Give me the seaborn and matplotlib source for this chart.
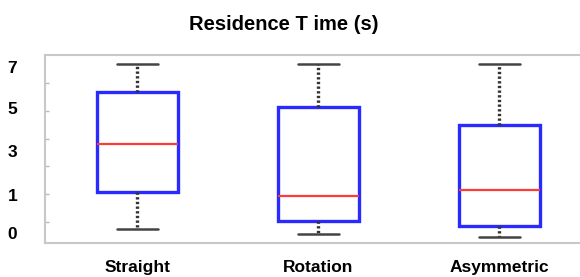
import numpy as np
import pandas as pd
import matplotlib
matplotlib.use("Agg")
import matplotlib.pyplot as plt
import seaborn as sns

# Datos (mín, Q1, mediana, Q3, máx)
categorias = ["Straight", "Rotation", "Asymmetric"]
straight = [0.10, 1.15, 3.33, 5.78, 7.15]
rotation = [-0.03, 0.32, 0.97, 5.03, 7.15]
asymmetric = [-0.10, 0.18, 1.24, 4.20, 7.15]
marcas_y = [0, 1, 3, 5, 7]

sns.set_theme(style="white")
plt.rcParams["font.family"] = ["Liberation Sans", "DejaVu Sans"]
plt.rcParams["font.weight"] = "bold"
plt.rcParams["text.color"] = "black"
plt.rcParams["xtick.labelcolor"] = "black"
plt.rcParams["ytick.labelcolor"] = "black"

data = pd.DataFrame({
    "categoria": np.repeat(categorias, 5),
    "valor": straight + rotation + asymmetric,
})

# el eje Y del original no es lineal: posiciones (px) de cada etiqueta
kv = np.array(marcas_y, float)
kp = np.array([0, 38, 82, 125, 166], float)


def _tramos(v, xs, ys):
    v = np.asarray(v, float)
    out = np.interp(v, xs, ys)
    m0 = (ys[1] - ys[0]) / (xs[1] - xs[0])
    m1 = (ys[-1] - ys[-2]) / (xs[-1] - xs[-2])
    out = np.where(v < xs[0], ys[0] + (v - xs[0]) * m0, out)
    out = np.where(v > xs[-1], ys[-1] + (v - xs[-1]) * m1, out)
    return out


def adelante(v):
    return _tramos(v, kv, kp)


def atras(p):
    return _tramos(p, kp, kv)


fig = plt.figure(figsize=(5.8, 2.77), dpi=100)
ax = fig.add_axes([45 / 580, 1 - 243 / 277, 535 / 580, 188 / 277])

sns.boxplot(
    data=data, x="categoria", y="valor", ax=ax,
    whis=(0, 100), width=0.45,
    boxprops=dict(facecolor="white", edgecolor="#2a2aff", linewidth=2.4),
    medianprops=dict(color="#ff3a3a", linewidth=1.6),
    whiskerprops=dict(color="#333333", linestyle=(0, (0.7, 0.7)), linewidth=2.4),
    capprops=dict(color="#444444", linewidth=1.8),
)

ax.set_yscale("function", functions=(adelante, atras))
ax.set_ylim(float(atras(-10)), float(atras(178)))
ax.set_xlim(-0.511, 2.445)
ax.set_yticks(marcas_y)
ax.set_yticklabels([str(v) for v in marcas_y])
ax.set_yticks(atras(np.arange(11, 160, 27.8)), minor=True)
ax.tick_params(axis="y", which="major", length=0, pad=20, labelsize=12.5, labelcolor="black")
ax.tick_params(axis="y", which="minor", length=3, direction="in", color="#bbbbbb", width=1, left=True)
ax.tick_params(axis="x", length=0, pad=12, labelsize=12.5, labelcolor="black")
ax.set_xlabel("")
ax.set_ylabel("")

for lado in ["left", "bottom", "top"]:
    ax.spines[lado].set_color("#c8c8c8")
    ax.spines[lado].set_linewidth(1.5)
ax.spines["right"].set_visible(False)

fig.text(283.5 / 580, 1 - 24 / 277, "Residence T ime (s)", ha="center", va="center",
         fontsize=14.5, fontweight="bold", color="black")

fig.savefig("out.png", dpi=100)
